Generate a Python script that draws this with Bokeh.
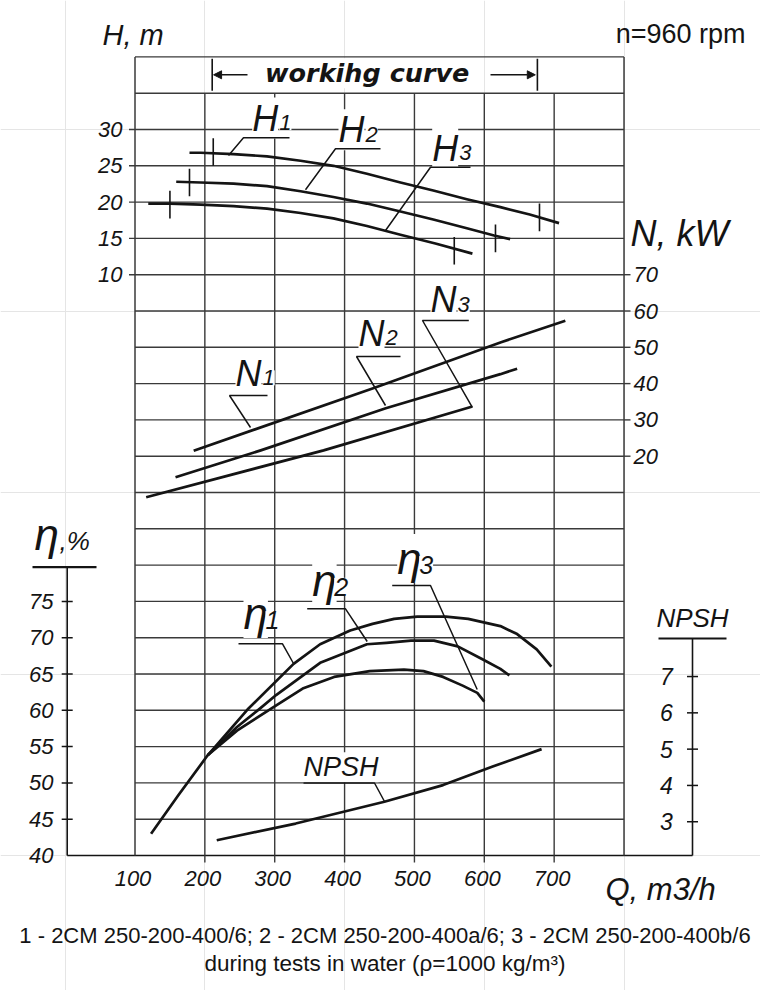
from bokeh.plotting import figure
from bokeh.models import Range1d, Arrow, NormalHead
from bokeh.core.properties import value
from bokeh.embed import file_html
from bokeh.resources import INLINE

# ---------------- data ----------------
q_ticks = [100, 200, 300, 400, 500, 600, 700]
q_grid = [100, 200, 300, 400, 500, 600, 700, 800]
h_ticks = [10, 15, 20, 25, 30]
n_ticks = [20, 30, 40, 50, 60, 70]
eta_ticks = [40, 45, 50, 55, 60, 65, 70, 75]
npsh_ticks = [3, 4, 5, 6, 7]

# head H, m
h1_q = [178, 194, 241, 289, 337, 384, 432, 480, 527, 575, 623, 665, 707]
h1_v = [26.8, 26.8, 26.6, 26.3, 25.7, 25.0, 23.9, 22.7, 21.6, 20.4, 19.3, 18.3, 17.1]
h2_q = [159, 194, 241, 289, 337, 384, 432, 480, 527, 575, 614, 637]
h2_v = [22.8, 22.7, 22.55, 22.2, 21.5, 20.7, 19.8, 18.7, 17.6, 16.4, 15.4, 14.9]
h3_q = [119, 150, 194, 241, 289, 337, 384, 432, 480, 530, 583]
h3_v = [19.8, 19.8, 19.65, 19.45, 19.1, 18.5, 17.75, 16.7, 15.5, 14.3, 12.9]

# working-range limits marked on each H curve
h_work_q = [[212, 679], [178, 616], [150, 557]]
h_work_v = [[26.9, 17.9], [22.7, 15.0], [19.65, 13.3]]
band_q = [210.5, 676]          # "workihg curve" band limits

# power N, kW
n1_q = [184, 442, 624, 716]
n1_v = [21.5, 38.8, 51.4, 57.3]
n2_q = [158, 280, 459, 623, 647]
n2_v = [14.2, 21.6, 33.2, 42.6, 44.1]
n3_q = [116, 370, 583]
n3_v = [8.7, 21.6, 33.7]

# efficiency eta, %
eta1_q = [123, 162, 204, 261, 327, 365, 408, 440, 471, 504, 545, 577, 623, 647, 675, 696]
eta1_v = [43.0, 48.3, 53.8, 60.1, 66.4, 69.1, 71.0, 71.9, 72.6, 72.9, 72.9, 72.6, 71.6, 70.5, 68.4, 66.0]
eta2_q = [204, 246, 277, 302, 366, 432, 460, 495, 528, 562, 598, 623, 636]
eta2_v = [53.8, 57.7, 60.1, 62.1, 66.6, 69.1, 69.3, 69.6, 69.6, 68.8, 67.0, 65.7, 64.8]
eta3_q = [204, 246, 296, 340, 385, 436, 485, 513, 541, 569, 590, 600]
eta3_v = [53.8, 57.2, 60.3, 63.0, 64.6, 65.4, 65.6, 65.4, 64.6, 63.4, 62.4, 61.2]

# NPSH, m
npsh_q = [217, 330, 457, 541, 612, 682]
npsh_v = [2.49, 2.95, 3.55, 4.01, 4.52, 5.0]

# ---------------- layout ----------------
W, HGT = 760, 990
ORIGIN = 0                      # canvas starts at the picture's corner
Q100_PX, PX_PER_Q = 134.5, 0.6986
U0_PX, PX_PER_U = 855.0, 36.3   # bottom grid line and grid pitch


def qx(px):
    return 100 + (px - Q100_PX) / PX_PER_Q


def uy(py):
    return (U0_PX - py) / PX_PER_U


u_lo, u_hi = uy(ORIGIN + HGT), uy(ORIGIN)

INK = "#141414"
GRID = "#3a3a3a"
SANS = "Liberation Sans"

p = figure(width=W, height=HGT, x_range=Range1d(qx(ORIGIN), qx(ORIGIN + W)),
           y_range=Range1d(u_lo, u_hi), output_backend="svg", toolbar_location=None,
           x_axis_location=None, y_axis_location=None, min_border=0,
           outline_line_color=None, background_fill_color="white",
           border_fill_color="white")
p.extra_y_ranges = {
    "H": Range1d(5 * u_lo - 70, 5 * u_hi - 70),
    "N": Range1d(10 * u_lo - 90, 10 * u_hi - 90),
    "eta": Range1d(40 + 5 * u_lo, 40 + 5 * u_hi),
    "npsh": Range1d(u_lo + 2.07, u_hi + 2.07),
}

q_eta_axis = qx(66.7)
q_npsh_axis = qx(692)
q_lo, q_hi = q_grid[0], q_grid[-1]

# ---------------- grid ----------------
grid_u = list(range(1, 23))
p.segment(x0=[q_lo] * len(grid_u), y0=grid_u, x1=[q_hi] * len(grid_u), y1=grid_u,
          line_color=GRID, line_width=1.4)
p.segment(x0=[q_eta_axis], y0=[0], x1=[q_npsh_axis], y1=[0], line_color=INK, line_width=1.6)
hu = [(h + 70) / 5 for h in h_ticks]
nu = [(n + 90) / 10 for n in n_ticks]
p.segment(x0=[qx(128.5)] * len(hu), y0=hu, x1=[q_lo] * len(hu), y1=hu, line_color=GRID, line_width=1.4)
p.segment(x0=[q_hi] * len(nu), y0=nu, x1=[qx(630)] * len(nu), y1=nu, line_color=GRID, line_width=1.4)
inner = q_grid[1:-1]
p.segment(x0=inner, y0=[0] * len(inner), x1=inner, y1=[21] * len(inner), line_color=GRID, line_width=1.4)
p.segment(x0=[q_lo, q_hi], y0=[0, 0], x1=[q_lo, q_hi], y1=[22, 22], line_color=GRID, line_width=1.5)
p.segment(x0=inner[:6], y0=[0] * 6, x1=inner[:6], y1=[uy(862)] * 6, line_color=GRID, line_width=1.4)

# ---------------- eta and NPSH scales ----------------
p.segment(x0=[q_eta_axis], y0=[0], x1=[q_eta_axis], y1=[uy(566.7)], line_color=INK, line_width=1.6)
p.segment(x0=[qx(32)], y0=[uy(566.7)], x1=[qx(96)], y1=[uy(566.7)], line_color=INK, line_width=2.2)
p.scatter(x=[q_eta_axis] * (len(eta_ticks) - 1), y=eta_ticks[1:], y_range_name="eta",
          marker="dash", size=11, line_color=INK, line_width=1.5)
p.segment(x0=[q_npsh_axis], y0=[0], x1=[q_npsh_axis], y1=[uy(638)], line_color=INK, line_width=1.6)
p.segment(x0=[qx(658)], y0=[uy(638)], x1=[qx(726)], y1=[uy(638)], line_color=INK, line_width=2.2)
p.scatter(x=[q_npsh_axis] * len(npsh_ticks), y=npsh_ticks, y_range_name="npsh",
          marker="dash", size=11, line_color=INK, line_width=1.5)


def txt(px, py, s, size, style="italic", align="left", font=SANS, bg=None, xo=0):
    """py is the text baseline in picture pixels."""
    kw = dict(x=[qx(px)], y=[uy(py - 0.347 * size)], text=[s], text_font=value(font),
              text_font_size=f"{size}px", text_font_style=style, text_align=align,
              text_baseline="middle", text_color=INK, x_offset=xo)
    if bg:
        kw["background_fill_color"] = bg
    p.text(**kw)


def ticks(xs, ys, labels, rng, align, size=22, xo=0):
    kw = dict(x=xs, y=ys, text=labels, text_font=value(SANS), text_font_size=f"{size}px",
              text_font_style="italic", text_align=align, text_baseline="middle",
              text_color=INK, x_offset=xo)
    if rng:
        kw["y_range_name"] = rng
    p.text(**kw)


ticks([qx(53)] * len(eta_ticks), eta_ticks, [str(v) for v in eta_ticks], "eta", "right")
ticks([qx(122)] * len(h_ticks), h_ticks, [str(v) for v in h_ticks], "H", "right")
ticks([qx(633)] * len(n_ticks), n_ticks, [str(v) for v in n_ticks], "N", "left")
ticks([qx(666)] * len(npsh_ticks), npsh_ticks, [str(v) for v in npsh_ticks], "npsh", "center", size=23)
ticks(q_ticks, [uy(878)] * len(q_ticks), [str(v) for v in q_ticks], None, "center", xo=-2)

# ---------------- series labels (white box breaks the grid as in the scan) ----------------
lab_specs = [
    ("H", ["1", "2", "3"], [(251.7, 130), (338, 141.7), (431.7, 160)], 36, 22, 27),
    ("N", ["1", "2", "3"], [(235, 385), (358, 345), (430, 311.7)], 36, 22, 27),
    ("η", ["1", "2", "3"], [(243, 628.3), (311.7, 595), (396.7, 573.3)], 44, 25, 22),
]
for letter, digits, pos, s_main, s_dig, off in lab_specs:
    for d, (px, py) in zip(digits, pos):
        txt(px, py, letter, s_main, bg="white")
        txt(px, py, d, s_dig, bg="white", xo=off)
txt(303, 776, "NPSH", 27, bg="white")
txt(366.7, 81.7, "workihg curve", 25.5, style="bold italic", align="center",
    font="DejaVu Sans", bg="white")

leaders = [
    [(289, 137.3), (243, 137.3), (228, 155)],
    [(380, 148.3), (335, 148.3), (305, 189.3)],
    [(470, 166.7), (430, 166.7), (385, 230)],
    [(267, 395), (229, 395), (250, 427)],
    [(400, 356), (356, 356), (385, 405)],
    [(468.3, 320), (422, 320), (471.7, 406.7)],
    [(238, 643.3), (282, 643.3), (293.3, 663.5)],
    [(306.7, 608.3), (345, 608.3), (366.7, 641)],
    [(391.7, 585), (430, 585), (476.7, 689)],
    [(303, 782.5), (374, 782.5), (384, 801)],
]
p.multi_line(xs=[[qx(a) for a, b in L] for L in leaders],
             ys=[[uy(b) for a, b in L] for L in leaders],
             line_color=INK, line_width=1.5)

# ---------------- curves ----------------
CW = 2.7
for xs, ys in [(h1_q, h1_v), (h2_q, h2_v), (h3_q, h3_v)]:
    p.line(xs, ys, y_range_name="H", line_color=INK, line_width=CW, line_join="round")
for xs, ys in [(n1_q, n1_v), (n2_q, n2_v), (n3_q, n3_v)]:
    p.line(xs, ys, y_range_name="N", line_color=INK, line_width=CW, line_join="round")
for xs, ys in [(eta1_q, eta1_v), (eta2_q, eta2_v), (eta3_q, eta3_v)]:
    p.line(xs, ys, y_range_name="eta", line_color=INK, line_width=CW, line_join="round")
p.line(npsh_q, npsh_v, y_range_name="npsh", line_color=INK, line_width=CW, line_join="round")

# working-range marks on the H curves
wx0, wy0, wy1 = [], [], []
for qs, vs in zip(h_work_q, h_work_v):
    for q, v in zip(qs, vs):
        wx0.append(q)
        wy0.append(v - 1.9)
        wy1.append(v + 1.9)
p.segment(x0=wx0, y0=wy0, x1=wx0, y1=wy1, y_range_name="H", line_color=INK, line_width=1.6)

# working band brackets and arrows
ub = uy(74.3)
p.segment(x0=band_q, y0=[21.07] * 2, x1=band_q, y1=[21.95] * 2, line_color=INK, line_width=1.6)
p.add_layout(Arrow(end=NormalHead(size=8, line_color=INK, fill_color=INK),
                   x_start=qx(247), y_start=ub, x_end=band_q[0] + 2, y_end=ub,
                   line_color=INK, line_width=1.5))
p.add_layout(Arrow(end=NormalHead(size=8, line_color=INK, fill_color=INK),
                   x_start=qx(490), y_start=ub, x_end=band_q[1] - 3, y_end=ub,
                   line_color=INK, line_width=1.5))

# ---------------- titles and captions ----------------
txt(102, 45, "H, m", 29)
txt(745, 43, "n=960 rpm", 27, style="normal", align="right")
txt(630, 245, "N, kW", 36)
txt(34, 549, "η", 44)
txt(59, 550, ",%", 26)
txt(692, 627, "NPSH", 26, align="center")
txt(605, 900, "Q, m3/h", 31)
txt(384.5, 943, "1 - 2CM 250-200-400/6; 2 - 2CM 250-200-400a/6; 3 - 2CM 250-200-400b/6",
    22, style="normal", align="center")
txt(384.5, 971, "during tests in water (ρ=1000 kg/m³)", 22.5, style="normal", align="center")

open("out.html", "w").write(file_html(p, INLINE))
